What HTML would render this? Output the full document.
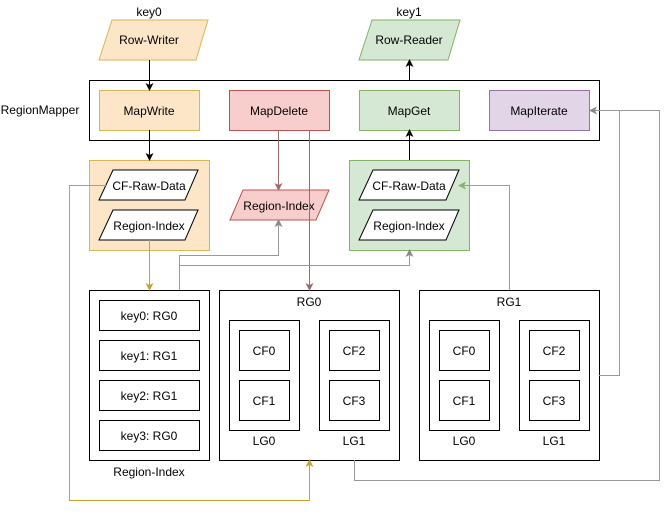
<!DOCTYPE html>
<html><head><meta charset="utf-8"><style>
body{margin:0;background:#fff}
text{font-family:"Liberation Sans",sans-serif;font-size:12px;fill:#000}
</style></head><body>
<svg width="668" height="509" viewBox="0 0 668 509" xmlns="http://www.w3.org/2000/svg">
<defs>
<marker id="ab" markerWidth="8" markerHeight="8" refX="7" refY="4" orient="auto" markerUnits="userSpaceOnUse"><path d="M0,0 L8,4 L0,8 L2,4z" fill="#000"/></marker>
<marker id="ao" markerWidth="8" markerHeight="8" refX="7" refY="4" orient="auto" markerUnits="userSpaceOnUse"><path d="M0,0 L8,4 L0,8 L2,4z" fill="#c9a227"/></marker>
<marker id="ar" markerWidth="8" markerHeight="8" refX="7" refY="4" orient="auto" markerUnits="userSpaceOnUse"><path d="M0,0 L8,4 L0,8 L2,4z" fill="#9e6a6a"/></marker>
<marker id="ag" markerWidth="8" markerHeight="8" refX="7" refY="4" orient="auto" markerUnits="userSpaceOnUse"><path d="M0,0 L8,4 L0,8 L2,4z" fill="#82b366"/></marker>
<marker id="ay" markerWidth="8" markerHeight="8" refX="7" refY="4" orient="auto" markerUnits="userSpaceOnUse"><path d="M0,0 L8,4 L0,8 L2,4z" fill="#888"/></marker>
</defs>
<g text-anchor="middle">
<text x="149" y="16">key0</text>
<text x="409" y="16">key1</text>
<polygon points="112,20 208,20 196,60 99,60" fill="#fde6c8" stroke="#d6b656"/>
<text x="149" y="44">Row-Writer</text>
<polygon points="372,20 460,20 448,60 359,60" fill="#d5e8d4" stroke="#82b366"/>
<text x="409" y="44">Row-Reader</text>
<rect x="89.5" y="80.5" width="510" height="60" fill="#fff" stroke="#000"/>
<text x="40" y="114">RegionMapper</text>
<rect x="99.5" y="90.5" width="100" height="40" fill="#fde6c8" stroke="#d6b656"/>
<text x="149" y="115">MapWrite</text>
<rect x="229.5" y="90.5" width="100" height="40" fill="#f8cecc" stroke="#b85450"/>
<text x="279" y="115">MapDelete</text>
<rect x="359.5" y="90.5" width="100" height="40" fill="#d5e8d4" stroke="#82b366"/>
<text x="409" y="115">MapGet</text>
<rect x="489.5" y="90.5" width="100" height="40" fill="#e1d5e7" stroke="#9673a6"/>
<text x="539" y="115">MapIterate</text>

<rect x="89.5" y="160.5" width="120" height="90" fill="#fde6c8" stroke="#d6b656"/>
<polygon points="113,170 198,170 185,200 99,200" fill="#fff" stroke="#000"/>
<text x="149" y="190">CF-Raw-Data</text>
<polygon points="113,210 198,210 185,240 99,240" fill="#fff" stroke="#000"/>
<text x="149" y="230">Region-Index</text>
<polygon points="243,190 329,190 316,220 230,220" fill="#f8cecc" stroke="#b85450"/>
<text x="279" y="210">Region-Index</text>
<rect x="349.5" y="160.5" width="120" height="90" fill="#d5e8d4" stroke="#82b366"/>
<polygon points="373,170 459,170 446,200 359,200" fill="#fff" stroke="#000"/>
<text x="409" y="190">CF-Raw-Data</text>
<polygon points="373,210 459,210 446,240 359,240" fill="#fff" stroke="#000"/>
<text x="409" y="230">Region-Index</text>

<rect x="89.5" y="290.5" width="120" height="170" fill="#fff" stroke="#000"/>
<rect x="99.5" y="300.5" width="100" height="30" fill="#fff" stroke="#000"/><text x="149" y="320">key0: RG0</text>
<rect x="99.5" y="340.5" width="100" height="30" fill="#fff" stroke="#000"/><text x="149" y="360">key1: RG1</text>
<rect x="99.5" y="380.5" width="100" height="30" fill="#fff" stroke="#000"/><text x="149" y="400">key2: RG1</text>
<rect x="99.5" y="420.5" width="100" height="30" fill="#fff" stroke="#000"/><text x="149" y="440">key3: RG0</text>
<text x="149" y="476">Region-Index</text>

<rect x="219.5" y="290.5" width="180" height="170" fill="#fff" stroke="#000"/>
<text x="309" y="306">RG0</text>
<rect x="229.5" y="320.5" width="70" height="110" fill="#fff" stroke="#000"/>
<rect x="239.5" y="330.5" width="50" height="40" fill="#fff" stroke="#000"/><text x="264" y="355">CF0</text>
<rect x="239.5" y="380.5" width="50" height="40" fill="#fff" stroke="#000"/><text x="264" y="405">CF1</text>
<text x="264" y="445">LG0</text>
<rect x="319.5" y="320.5" width="70" height="110" fill="#fff" stroke="#000"/>
<rect x="329.5" y="330.5" width="50" height="40" fill="#fff" stroke="#000"/><text x="354" y="355">CF2</text>
<rect x="329.5" y="380.5" width="50" height="40" fill="#fff" stroke="#000"/><text x="354" y="405">CF3</text>
<text x="354" y="445">LG1</text>

<rect x="419.5" y="290.5" width="180" height="170" fill="#fff" stroke="#000"/>
<text x="509" y="306">RG1</text>
<rect x="429.5" y="320.5" width="70" height="110" fill="#fff" stroke="#000"/>
<rect x="439.5" y="330.5" width="50" height="40" fill="#fff" stroke="#000"/><text x="464" y="355">CF0</text>
<rect x="439.5" y="380.5" width="50" height="40" fill="#fff" stroke="#000"/><text x="464" y="405">CF1</text>
<text x="464" y="445">LG0</text>
<rect x="519.5" y="320.5" width="70" height="110" fill="#fff" stroke="#000"/>
<rect x="529.5" y="330.5" width="50" height="40" fill="#fff" stroke="#000"/><text x="554" y="355">CF2</text>
<rect x="529.5" y="380.5" width="50" height="40" fill="#fff" stroke="#000"/><text x="554" y="405">CF3</text>
<text x="554" y="445">LG1</text>
</g>

<g fill="none">
<path d="M149.5,60 V90" stroke="#000" marker-end="url(#ab)"/>
<path d="M149.5,130 V160" stroke="#000" marker-end="url(#ab)"/>
<path d="M409.5,80 V60" stroke="#000" marker-end="url(#ab)"/>
<path d="M409.5,160 V130" stroke="#000" marker-end="url(#ab)"/>
<path d="M149.5,240 V290" stroke="#c9a227" marker-end="url(#ao)"/>
<path d="M106,185.5 H69.5 V500.5 H309.5 V460" stroke="#c9a227" marker-end="url(#ao)"/>
<path d="M278.5,130 V190" stroke="#9e6a6a" marker-end="url(#ar)"/>
<path d="M309.5,130 V290" stroke="#9e6a6a" marker-end="url(#ar)"/>
<path d="M179.5,290 V255.5 H278.5 V220" stroke="#999" marker-end="url(#ay)"/>
<path d="M179.5,265.5 H409.5 V250" stroke="#999" marker-end="url(#ay)"/>
<path d="M509.5,290 V185.5 H459" stroke="#82b366" marker-end="url(#ag)"/>
<path d="M599,375.5 H619.5 V110.5" stroke="#999"/>
<path d="M354.5,460 V480.5 H659.5 V110.5 H590" stroke="#999" marker-end="url(#ay)"/>
</g>
</svg>
</body></html>
